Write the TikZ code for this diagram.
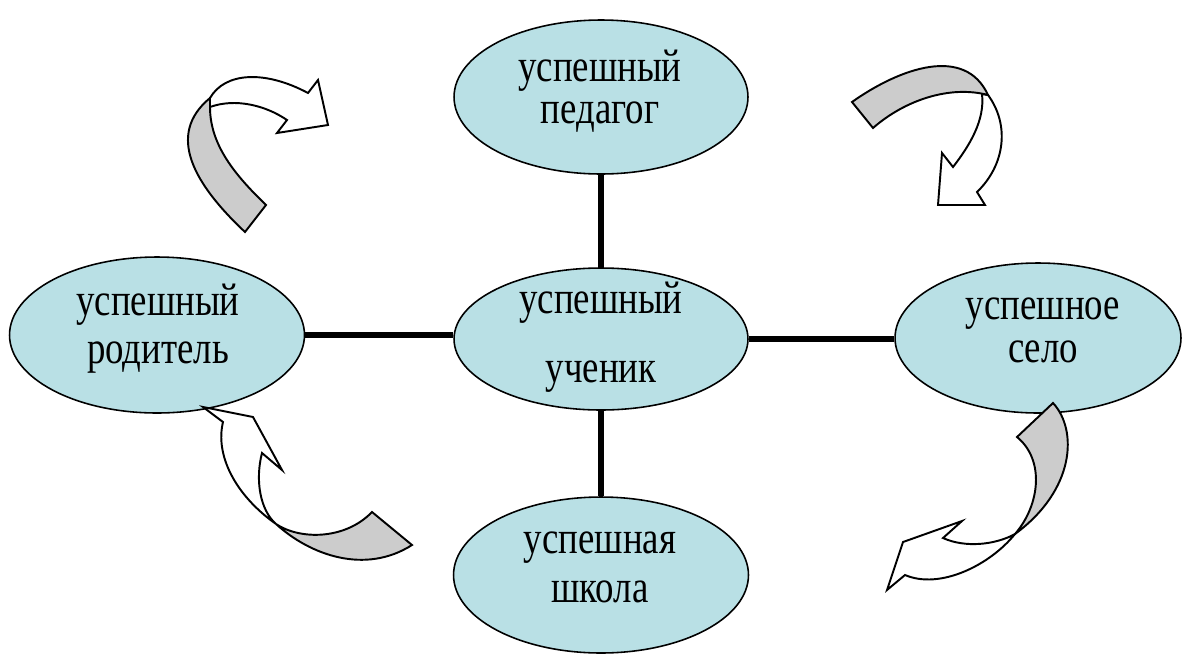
\documentclass[tikz,border=0pt]{standalone}
\usepackage{fontspec}
\setmainfont{Liberation Serif}[FakeStretch=0.8]
\usetikzlibrary{shapes.geometric}
\definecolor{oval}{RGB}{185,224,229}
\definecolor{fold}{RGB}{204,204,204}
\begin{document}
\begin{tikzpicture}[x=0.02cm,y=-0.02cm,line width=0.9pt,
  oval/.style={ellipse,draw,fill=oval,inner sep=0pt},
  txt/.style={font=\fontsize{26.2pt}{#1}\selectfont,align=center,anchor=base,inner sep=0pt},
  link/.style={line width=3pt},
  band/.style={draw,fill=fold,line width=1.1pt},
  head/.style={draw,fill=white,line width=1.1pt}]
\useasboundingbox(0,0)rectangle(1182,653);
\node[oval,minimum width=5.88cm,minimum height=3.08cm](ped)at(601,97){};
\node[oval,minimum width=5.88cm,minimum height=2.84cm](uch)at(601,339){};
\node[oval,minimum width=5.90cm,minimum height=3.12cm](rod)at(157,335){};
\node[oval,minimum width=5.72cm,minimum height=3.00cm](selo)at(1038,338){};
\node[oval,minimum width=5.90cm,minimum height=3.12cm](shk)at(601,575){};
\draw[link](ped)--(uch);
\draw[link](uch)--(shk);
\draw[link](rod.east)--(rod.east-|uch.west);
\draw[link](uch.east)--(uch.east-|selo.west);
\node[txt=0.84cm](ped-t)at(600,123){успешный\\педагог};
\node[txt=1.38cm](uch-t)at(601,382){успешный\\ученик};
\node[txt=0.96cm](rod-t)at(158,363){успешный\\родитель};
\node[txt=0.86cm](selo-t)at(1043,362){успешное\\село};
\node[txt=0.98cm](shk-t)at(600,602){успешная\\школа};
% curved arrows
\draw[band](245,232)..controls(195,185)and(165,135)..(210,98)--(210,107)
  ..controls(210,145)and(235,175)..(266,205)--cycle;
\draw[head](210,98)..controls(225,72)and(265,70)..(308,93)--(318,80)--(328,125)
  --(277,133)--(287,120)..controls(265,105)and(235,98)..(210,107)--cycle;
\draw[head](988,95)..controls(1010,125)and(1005,165)..(977,192)--(985,205)--(938,205)
  --(942,153)--(953,167)..controls(970,145)and(985,120)..(982,94)--cycle;
\draw[band](852,102)..controls(900,68)and(965,45)..(988,95)
  ..controls(950,85)and(905,100)..(873,128)--cycle;
\draw[head](276,524)..controls(235,495)and(215,455)..(223,422)--(203,407)--(253,417)
  --(282,470)--(262,453)..controls(255,480)and(260,510)..(276,524)--cycle;
\draw[band](276,524)..controls(310,555)and(365,575)..(412,545)--(372,512)
  ..controls(345,540)and(300,540)..(276,524)--cycle;
\draw[head](1015,534)..controls(990,565)and(940,590)..(905,575)--(887,590)--(903,542)
  --(962,521)--(943,538)..controls(965,548)and(995,545)..(1015,534)--cycle;
\draw[band](1017,437)--(1053,403)..controls(1078,430)and(1075,490)..(1015,534)
  ..controls(1040,505)and(1045,460)..(1017,437)--cycle;
\end{tikzpicture}
\end{document}
